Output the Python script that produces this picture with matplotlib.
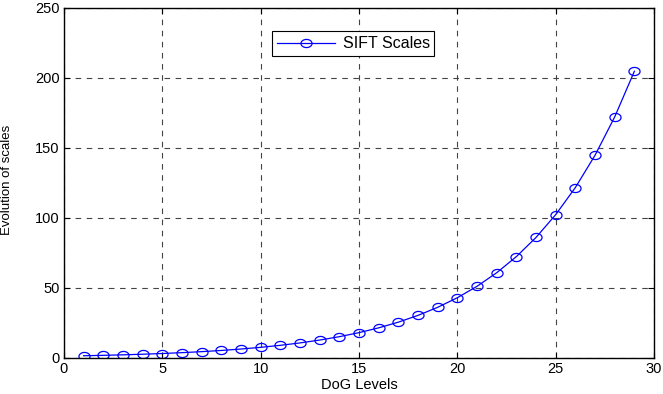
import numpy as np
import matplotlib.pyplot as plt

plt.rcParams['font.family'] = ['Liberation Sans', 'DejaVu Sans']

# DoG level index and the scale measured at each level
levels = list(range(1, 30))
scales = [1.6, 1.9, 2.26, 2.69, 3.2, 3.81, 4.53, 5.38, 6.4, 7.61,
          9.05, 10.76, 12.8, 15.22, 18.1, 21.53, 25.6, 30.44, 36.2, 43.05,
          51.2, 60.89, 72.41, 86.11, 102.4, 121.77, 144.82, 172.22, 204.8]

x_ticks = [0, 5, 10, 15, 20, 25, 30]
y_ticks = [0, 50, 100, 150, 200, 250]

# slightly flattened open circle marker
t = np.linspace(0, 2 * np.pi, 60)
ellipse = np.column_stack([np.cos(t), 0.73 * np.sin(t)])

fig = plt.figure(figsize=(6.63, 3.94), dpi=100)
ax = fig.add_axes([0.0965, 0.0914, 0.89, 0.8883])

ax.plot(levels, scales, color='#0000ff', lw=0.9, marker=ellipse, markersize=8,
        markerfacecolor='none', markeredgecolor='#0000ff', markeredgewidth=0.9,
        label='SIFT Scales')

ax.set_xlim(0, 30)
ax.set_ylim(0, 250)
ax.set_xticks(x_ticks)
ax.set_yticks(y_ticks)
ax.tick_params(direction='in', top=True, right=True, length=4, width=0.8,
               labelsize=10.5, pad=3)
ax.grid(True, color='#444444', linestyle=(0, (5, 5)), linewidth=0.8)
for s in ax.spines.values():
    s.set_linewidth(1.0)

ax.set_xlabel('DoG Levels', fontsize=10.5, labelpad=1)
ax.set_ylabel('Evolution of scales', fontsize=9.5)
ax.yaxis.set_label_coords(-0.086, 0.51)

leg = ax.legend(loc='upper left', bbox_to_anchor=(0.353, 0.933), fontsize=11.5,
                fancybox=False, framealpha=1, edgecolor='black',
                handlelength=3.6, handletextpad=0.5, borderpad=0.3,
                borderaxespad=0)
leg.get_frame().set_linewidth(0.8)

fig.savefig('out.png', dpi=100)
